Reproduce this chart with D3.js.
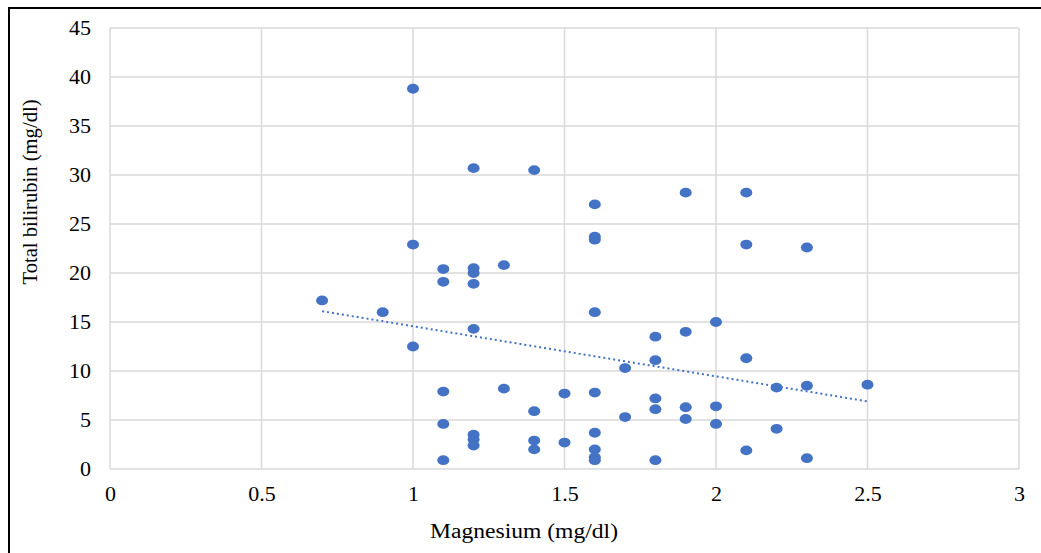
<!DOCTYPE html>
<html><head><meta charset="utf-8">
<script src="https://cdn.jsdelivr.net/npm/d3@7"></script>
<style>body{margin:0;background:#fff}svg{display:block}</style>
</head><body>
<svg id="c" width="1041" height="553"></svg>
<script>
const magnesium = [0.7,0.9,1.0,1.0,1.0,1.1,1.1,1.1,1.1,1.1,1.2,1.2,1.2,1.2,1.2,1.2,1.2,1.2,1.3,1.3,1.4,1.4,1.4,1.4,1.5,1.5,1.6,1.6,1.6,1.6,1.6,1.6,1.6,1.6,1.6,1.7,1.7,1.8,1.8,1.8,1.8,1.8,1.9,1.9,1.9,1.9,2.0,2.0,2.0,2.1,2.1,2.1,2.1,2.2,2.2,2.3,2.3,2.3,2.5];
const bilirubin = [17.2,16.0,38.8,22.9,12.5,20.4,19.1,7.9,4.6,0.9,30.7,20.5,20.0,18.9,14.3,3.5,3.0,2.4,20.8,8.2,30.5,5.9,2.9,2.0,7.7,2.7,27.0,23.7,23.4,16.0,7.8,3.7,2.0,1.2,0.9,10.3,5.3,13.5,11.1,7.2,6.1,0.9,28.2,14.0,6.3,5.1,15.0,6.4,4.6,28.2,22.9,11.3,1.9,8.3,4.1,22.6,8.5,1.1,8.6];
// linear trendline as drawn in the reference (endpoints)
const trendX = [0.7, 2.5];
const trendY = [16.1, 6.9];
const xTicks = [0,0.5,1,1.5,2,2.5,3];
const yTicks = [0,5,10,15,20,25,30,35,40,45];
const xTitle = "Magnesium (mg/dl)";
const yTitle = "Total bilirubin (mg/dl)";

const svg = d3.select("#c");
const x = d3.scaleLinear().domain([0,3]).range([110,1019]);
const y = d3.scaleLinear().domain([0,45]).range([469,28]);

svg.append("line").attr("x1",9).attr("x2",1041).attr("y1",8).attr("y2",8).attr("stroke","#000").attr("stroke-width",2);
svg.append("line").attr("x1",9).attr("x2",9).attr("y1",7).attr("y2",553).attr("stroke","#000").attr("stroke-width",2);

const g = svg.append("g");
g.selectAll(".hg").data(yTicks).join("line")
  .attr("x1",x(0)).attr("x2",x(3)).attr("y1",d=>y(d)).attr("y2",d=>y(d))
  .attr("stroke","#d9d9d9").attr("stroke-width",1.5);
g.selectAll(".vg").data(xTicks).join("line")
  .attr("y1",y(0)).attr("y2",y(45)).attr("x1",d=>x(d)).attr("x2",d=>x(d))
  .attr("stroke","#d9d9d9").attr("stroke-width",1.5);

const font = "'Liberation Serif','Times New Roman',serif";
const xAxis = d3.axisBottom(x).tickValues(xTicks).tickSize(0).tickPadding(0).tickFormat(d3.format("~g"));
const ax = svg.append("g").attr("transform",`translate(0,${y(0)})`).call(xAxis);
ax.select(".domain").remove();
ax.selectAll("text").attr("y",0).attr("dy",null).attr("transform","translate(0,32)")
  .style("font-family",font).style("font-size","22px").attr("fill","#000");

const yAxis = d3.axisLeft(y).tickValues(yTicks).tickSize(0).tickPadding(0);
const ay = svg.append("g").attr("transform","translate(91,0)").call(yAxis);
ay.select(".domain").remove();
ay.selectAll("text").attr("x",0).attr("dy","0.3em")
  .style("font-family",font).style("font-size","22px").attr("fill","#000");

svg.append("text").attr("x",524).attr("y",538).attr("text-anchor","middle")
  .attr("textLength",188).attr("lengthAdjust","spacingAndGlyphs")
  .style("font-family",font).style("font-size","20px").text(xTitle);
svg.append("text").attr("transform","translate(37,192) rotate(-90)").attr("text-anchor","middle")
  .attr("textLength",185).attr("lengthAdjust","spacingAndGlyphs")
  .style("font-family",font).style("font-size","20px").text(yTitle);

svg.append("line").attr("x1",x(trendX[0])).attr("x2",x(trendX[1])).attr("y1",y(trendY[0])).attr("y2",y(trendY[1]))
  .attr("stroke","#4472C4").attr("stroke-width",2).attr("stroke-dasharray","2,3");

svg.selectAll(".pt").data(magnesium).join("ellipse")
  .attr("cx",(d)=>x(d)).attr("cy",(d,i)=>y(bilirubin[i]))
  .attr("rx",6).attr("ry",4.9).attr("fill","#4472C4");
</script>
</body></html>
